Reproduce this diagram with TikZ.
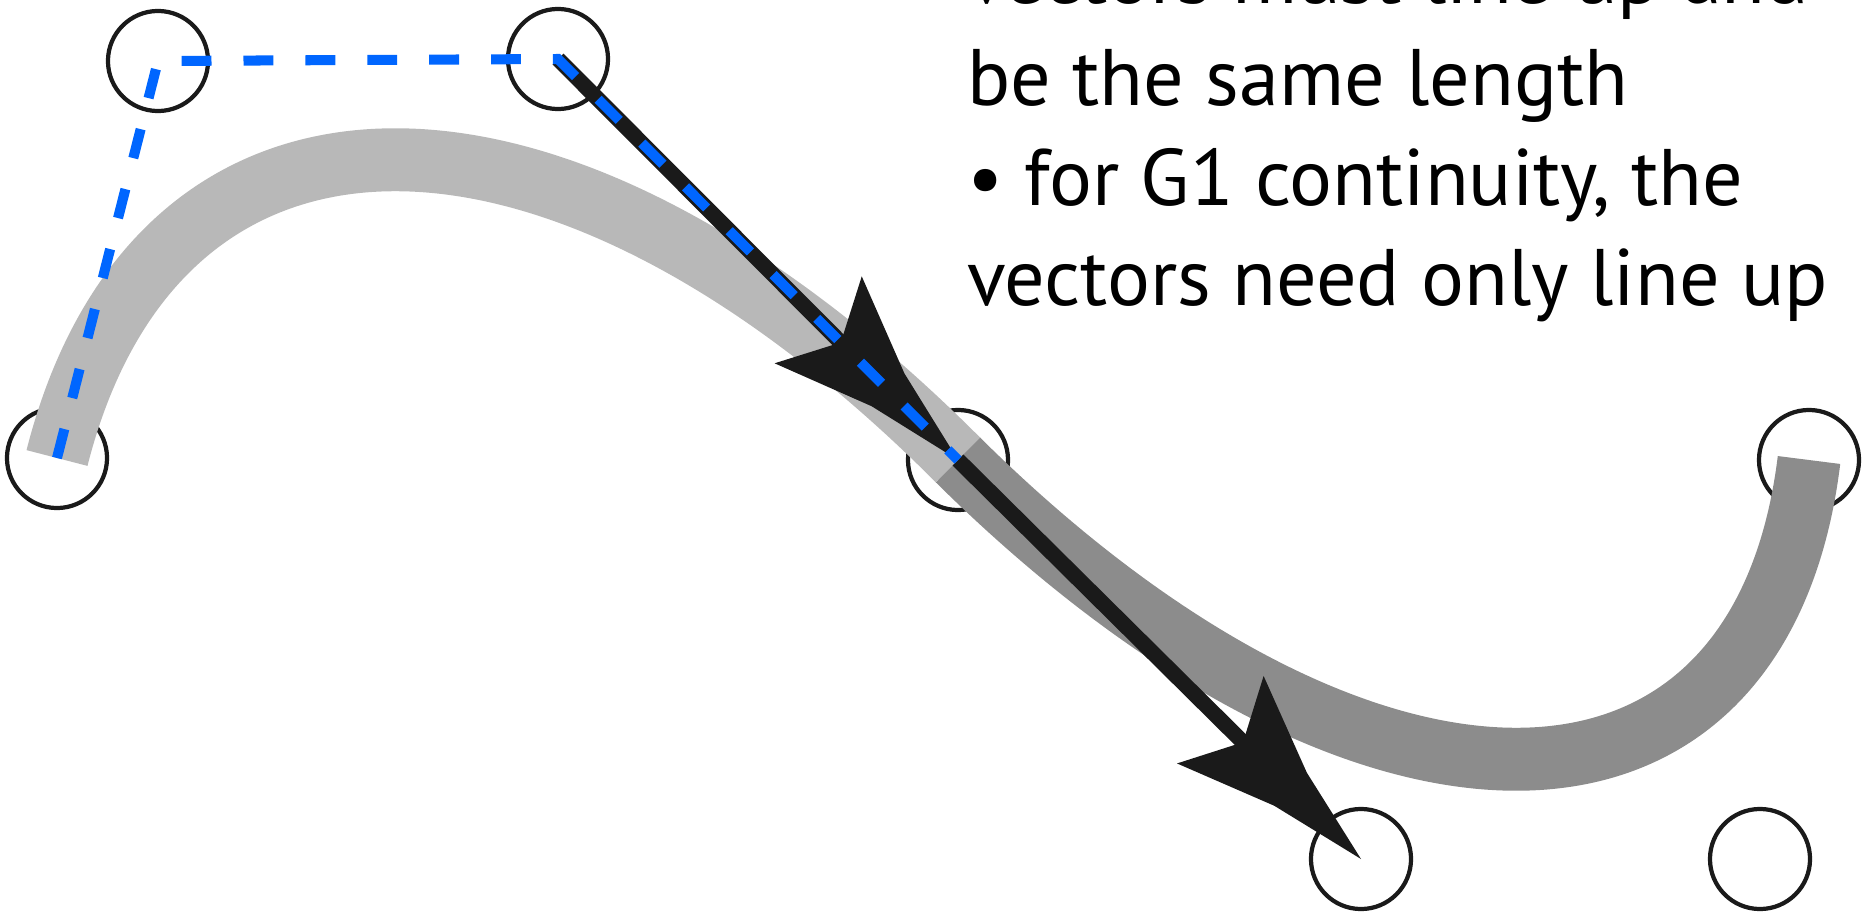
\documentclass[tikz,border=0pt]{standalone}
\usepackage{fontspec}
\setmainfont{PT Sans}
\usetikzlibrary{arrows.meta}
\definecolor{ink}{HTML}{1A1A1A}
\definecolor{lightband}{HTML}{B8B8B8}
\definecolor{darkband}{HTML}{8C8C8C}
\definecolor{ctlblue}{HTML}{0066FF}
\pgfdeclarearrow{
  name = Swept,
  setup code = {
    \pgfarrowssettipend{0pt}
    \pgfarrowssetbackend{-56.3pt}
    \pgfarrowssetlineend{-40pt}
    \pgfarrowssetvisualbackend{-47pt}
    \pgfarrowsupperhullpoint{-56.3pt}{17.5pt}
    \pgfarrowsupperhullpoint{0pt}{0pt}
  },
  drawing code = {
    \pgfpathmoveto{\pgfpointorigin}
    \pgfpathlineto{\pgfpoint{-28.2pt}{6.6pt}}
    \pgfpathlineto{\pgfpoint{-56.3pt}{17.5pt}}
    \pgfpathlineto{\pgfpoint{-47.2pt}{0pt}}
    \pgfpathlineto{\pgfpoint{-56.3pt}{-17.5pt}}
    \pgfpathlineto{\pgfpoint{-28.2pt}{-6.6pt}}
    \pgfpathclose
    \pgfusepathqfill
  }
}
\tikzset{
  cp/.style={circle, draw=ink, line width=1.2pt, minimum size=1cm, inner sep=0pt, outer sep=0pt},
  band/.style={line width=17.9pt, line cap=butt},
  vec/.style={color=ink, line width=4.4pt, -{Swept}},
  ctl/.style={draw=ctlblue, line width=2.85pt, dash pattern=on 8.5pt off 9.1pt, line join=miter},
  txt/.style={anchor=base west, inner sep=0pt, outer sep=0pt, text=black, font=\fontsize{22.8pt}{28.4pt}\selectfont}
}
\begin{document}
\begin{tikzpicture}[x=0.01cm, y=-0.01cm]
\path[use as bounding box] (0,0) rectangle (1875,915);
\clip (0,0) rectangle (1875,915);
% control points
\node[cp] (p0) at (57,458) {};
\node[cp] (p1) at (158,61) {};
\node[cp] (p2) at (558,59) {};
\node[cp] (p3) at (958,460) {};
\node[cp] (p4) at (1361,859) {};
\node[cp] (p5) at (1760,859) {};
\node[cp] (p6) at (1809,460) {};
% curve
\draw[band, lightband] (p0.center) .. controls (p1.center) and (p2.center) .. (p3.center);
\draw[band, darkband] (p3.center) .. controls (p4.center) and (p5.center) .. (p6.center);
% tangent vectors
\draw[vec] (p2.center) -- (p3.center);
\draw[vec] (p3.center) -- (p4.center);
% control polygon
\draw[ctl] (p0.center) -- (p1.center) -- (p2.center) -- (p3.center);
% text
\node[txt] (l1) at (967,3) {vectors must line up and};
\node[txt] (l2) at (967,105) {be the same length};
\node[txt] (l3) at (967,205) {• for G1 continuity, the};
\node[txt] (l4) at (967,305) {vectors need only line up};
\end{tikzpicture}
\end{document}
